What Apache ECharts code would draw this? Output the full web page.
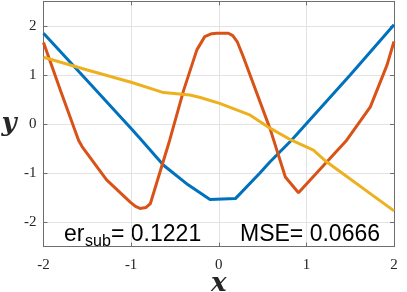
<!DOCTYPE html>
<html>
<head>
<meta charset="utf-8">
<script src="https://cdn.jsdelivr.net/npm/echarts@6/dist/echarts.min.js"></script>
<style>html,body{margin:0;padding:0;background:#fff;}#c{width:407px;height:292px;}</style>
</head>
<body>
<div id="c"></div>
<script>
// Blue series
var blueX = [-2, -1.5, -1, -0.9, -0.63, -0.35, -0.1, 0.19, 0.47, 0.586, 0.83, 1.5, 2];
var blueY = [1.85, 0.88, -0.09, -0.29, -0.84, -1.24, -1.54, -1.52, -1.0, -0.77, -0.33, 1.0, 2.02];
// Orange series
var orangeX = [-2, -1.8, -1.6, -1.56, -1.28, -1.01, -0.95, -0.9, -0.83, -0.78, -0.56, -0.40, -0.25, -0.16, -0.08, -0.02, 0.11, 0.16, 0.21, 0.28, 0.59, 0.76, 0.91, 1.46, 1.61, 1.73, 1.92, 2];
var orangeY = [1.66, 0.65, -0.33, -0.46, -1.14, -1.59, -1.68, -1.72, -1.70, -1.62, -0.33, 0.69, 1.51, 1.78, 1.84, 1.85, 1.85, 1.80, 1.68, 1.37, -0.12, -1.08, -1.40, -0.33, 0.05, 0.35, 1.20, 1.68];
// Yellow series
var yellowX = [-2, -1.5, -1, -0.63, -0.33, -0.21, 0.01, 0.36, 0.59, 0.83, 1.08, 1.23, 2];
var yellowY = [1.36, 1.10, 0.85, 0.64, 0.59, 0.54, 0.42, 0.18, -0.09, -0.33, -0.53, -0.77, -1.77];
// Tick labels
var xTicks = [-2, -1, 0, 1, 2];
var yTicks = [-2, -1, 0, 1, 2];
var erText = '0.1221';
var mseText = '0.0666';

function pairs(xs, ys) { return xs.map(function (x, i) { return [x, ys[i]]; }); }

var chart = echarts.init(document.getElementById('c'));
var tickFont = {fontFamily: 'Liberation Serif', fontSize: 15, color: '#262626'};
var axisLineStyle = {color: '#6e6e6e', width: 1};
var nameFont = {fontFamily: 'DejaVu Serif', fontStyle: 'italic', fontWeight: 'bold', fontSize: 26, color: '#262626'};
chart.setOption({
  animation: false,
  grid: {left: 43.5, right: 13, top: 1.3, bottom: 45.3, containLabel: false, outerBoundsMode: 'none'},
  xAxis: [{
    type: 'value', min: -2, max: 2, interval: 1, position: 'bottom',
    name: 'x', nameLocation: 'middle', nameGap: 25, nameMoveOverlap: false, nameTextStyle: nameFont,
    axisLine: {show: true, onZero: false, lineStyle: axisLineStyle},
    axisTick: {show: true, inside: true, length: 4, lineStyle: axisLineStyle},
    axisLabel: Object.assign({margin: 11}, tickFont),
    splitLine: {show: true, lineStyle: {color: '#e3e3e3', width: 1}}
  }, {
    type: 'value', min: -2, max: 2, interval: 1, position: 'top',
    axisLine: {show: true, onZero: false, lineStyle: axisLineStyle},
    axisTick: {show: true, inside: true, length: 4, lineStyle: axisLineStyle},
    axisLabel: {show: false}, splitLine: {show: false}
  }],
  yAxis: [{
    type: 'value', min: -2.5, max: 2.5, position: 'left',
    name: 'y', nameLocation: 'middle', nameGap: 27, nameRotate: 0, nameMoveOverlap: false, nameTextStyle: nameFont,
    axisLine: {show: true, onZero: false, lineStyle: axisLineStyle},
    axisTick: {show: true, inside: true, length: 4, lineStyle: axisLineStyle, customValues: yTicks},
    axisLabel: Object.assign({margin: 7, customValues: yTicks}, tickFont),
    splitLine: {show: true, lineStyle: {color: '#e3e3e3', width: 1}}
  }, {
    type: 'value', min: -2.5, max: 2.5, position: 'right',
    axisLine: {show: true, onZero: false, lineStyle: axisLineStyle},
    axisTick: {show: true, inside: true, length: 4, lineStyle: axisLineStyle, customValues: yTicks},
    axisLabel: {show: false, customValues: yTicks}, splitLine: {show: false}
  }],
  series: [
    {type: 'line', data: pairs(blueX, blueY), showSymbol: false, lineStyle: {color: '#0072BD', width: 3}, itemStyle: {color: '#0072BD'}},
    {type: 'line', data: pairs(orangeX, orangeY), showSymbol: false, lineStyle: {color: '#D95319', width: 3}, itemStyle: {color: '#D95319'}},
    {type: 'line', data: pairs(yellowX, yellowY), showSymbol: false, lineStyle: {color: '#EDB120', width: 3}, itemStyle: {color: '#EDB120'}}
  ],
  graphic: [
    {type: 'text', x: 64, y: 234.7, style: {text: 'er', font: '23px "Liberation Sans"', fill: '#000', verticalAlign: 'middle', align: 'left'}},
    {type: 'text', x: 85, y: 241.1, style: {text: 'sub', font: '16px "Liberation Sans"', fill: '#000', verticalAlign: 'middle', align: 'left'}},
    {type: 'text', x: 111, y: 234.7, style: {text: '= ' + erText, font: '23px "Liberation Sans"', fill: '#000', verticalAlign: 'middle', align: 'left'}},
    {type: 'text', x: 240, y: 234.7, style: {text: 'MSE= ' + mseText, font: '23px "Liberation Sans"', fill: '#000', verticalAlign: 'middle', align: 'left'}}
  ]
});
</script>
</body>
</html>
